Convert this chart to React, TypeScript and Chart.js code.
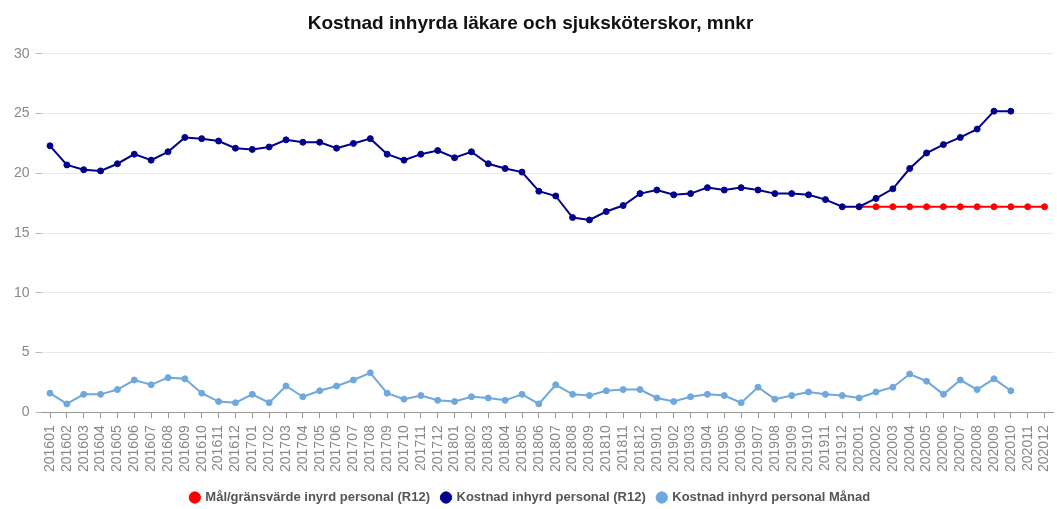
import React, { useEffect, useRef } from "react";
import { Chart, registerables } from "chart.js";

Chart.register(...registerables);

const months: string[] = [
  "201601","201602","201603","201604","201605","201606","201607","201608","201609","201610","201611","201612",
  "201701","201702","201703","201704","201705","201706","201707","201708","201709","201710","201711","201712",
  "201801","201802","201803","201804","201805","201806","201807","201808","201809","201810","201811","201812",
  "201901","201902","201903","201904","201905","201906","201907","201908","201909","201910","201911","201912",
  "202001","202002","202003","202004","202005","202006","202007","202008","202009","202010","202011","202012",
];

const targetR12: (number | null)[] = [
  null,null,null,null,null,null,null,null,null,null,null,null,
  null,null,null,null,null,null,null,null,null,null,null,null,
  null,null,null,null,null,null,null,null,null,null,null,null,
  null,null,null,null,null,null,null,null,null,null,null,null,
  17.2,17.2,17.2,17.2,17.2,17.2,17.2,17.2,17.2,17.2,17.2,17.2,
];

const costR12: (number | null)[] = [
  22.3,20.7,20.3,20.2,20.8,21.6,21.1,21.8,23.0,22.9,22.7,22.1,
  22.0,22.2,22.8,22.6,22.6,22.1,22.5,22.9,21.6,21.1,21.6,21.9,
  21.3,21.8,20.8,20.4,20.1,18.5,18.1,16.3,16.1,16.8,17.3,18.3,
  18.6,18.2,18.3,18.8,18.6,18.8,18.6,18.3,18.3,18.2,17.8,17.2,
  17.2,17.9,18.7,20.4,21.7,22.4,23.0,23.7,25.2,25.2,null,null,
];

const costMonth: (number | null)[] = [
  1.6,0.7,1.5,1.5,1.9,2.7,2.3,2.9,2.8,1.6,0.9,0.8,
  1.5,0.8,2.2,1.3,1.8,2.2,2.7,3.3,1.6,1.1,1.4,1.0,
  0.9,1.3,1.2,1.0,1.5,0.7,2.3,1.5,1.4,1.8,1.9,1.9,
  1.2,0.9,1.3,1.5,1.4,0.8,2.1,1.1,1.4,1.7,1.5,1.4,
  1.2,1.7,2.1,3.2,2.6,1.5,2.7,1.9,2.8,1.8,null,null,
];

const yTicks = { min: 0, max: 30, step: 5 };

const FONT = "'Liberation Sans', Arial, Helvetica, sans-serif";
const W = 1049;
const H = 501;

export default function App() {
  const ref = useRef<HTMLCanvasElement | null>(null);

  useEffect(() => {
    if (!ref.current) return;
    const common = {
      borderWidth: 2,
      pointRadius: 3,
      pointHoverRadius: 3,
      pointBorderWidth: 1,
    };
    const chart = new Chart(ref.current, {
      type: "line",
      data: {
        labels: months,
        datasets: [
          {
            label: "Mål/gränsvärde inyrd personal (R12)",
            data: targetR12,
            borderColor: "#ff0000",
            backgroundColor: "#ff0000",
            order: 2,
            ...common,
          },
          {
            label: "Kostnad inhyrd personal (R12)",
            data: costR12,
            borderColor: "#00008b",
            backgroundColor: "#00008b",
            order: 1,
            ...common,
          },
          {
            label: "Kostnad inhyrd personal Månad",
            data: costMonth,
            borderColor: "#6fa8dc",
            backgroundColor: "#6fa8dc",
            order: 3,
            ...common,
          },
        ],
      },
      options: {
        animation: false,
        responsive: false,
        layout: { padding: { left: 0, right: 4, top: 2, bottom: -5 } },
        plugins: {
          title: {
            display: true,
            text: "Kostnad inhyrda läkare och sjuksköterskor, mnkr",
            color: "#111",
            font: { family: FONT, size: 19, weight: "bold" },
            padding: { top: 2, bottom: 19 },
          },
          legend: {
            position: "bottom",
            labels: {
              usePointStyle: true,
              pointStyle: "circle",
              boxWidth: 8,
              boxHeight: 8,
              color: "#555",
              padding: 12,
              font: { family: FONT, size: 13, weight: "bold" },
              sort: (a: any, b: any) => a.datasetIndex - b.datasetIndex,
            },
          },
          tooltip: { enabled: false },
        },
        scales: {
          x: {
            offset: true,
            afterFit: (axis: any) => {
              axis.paddingRight = 0;
            },
            grid: {
              display: true,
              drawOnChartArea: false,
              drawTicks: true,
              tickLength: 6,
              color: "#999",
            },
            border: { color: "#999" },
            ticks: {
              autoSkip: false,
              maxRotation: 90,
              minRotation: 90,
              color: "#888",
              padding: 7,
              font: { family: FONT, size: 14 },
            },
          },
          y: {
            min: yTicks.min,
            max: yTicks.max,
            ticks: {
              stepSize: yTicks.step,
              color: "#888",
              padding: 6,
              font: { family: FONT, size: 14 },
            },
            grid: { color: "#e8e8e8", tickLength: 6, tickColor: "#bbb" },
            border: { display: false },
          },
        },
      },
    });
    return () => chart.destroy();
  }, []);

  return (
    <div style={{ position: "fixed", left: 8, top: 8, width: W, height: H, overflow: "hidden" }}>
      <canvas ref={ref} width={W} height={H} style={{ display: "block", width: W, height: H }} />
    </div>
  );
}
